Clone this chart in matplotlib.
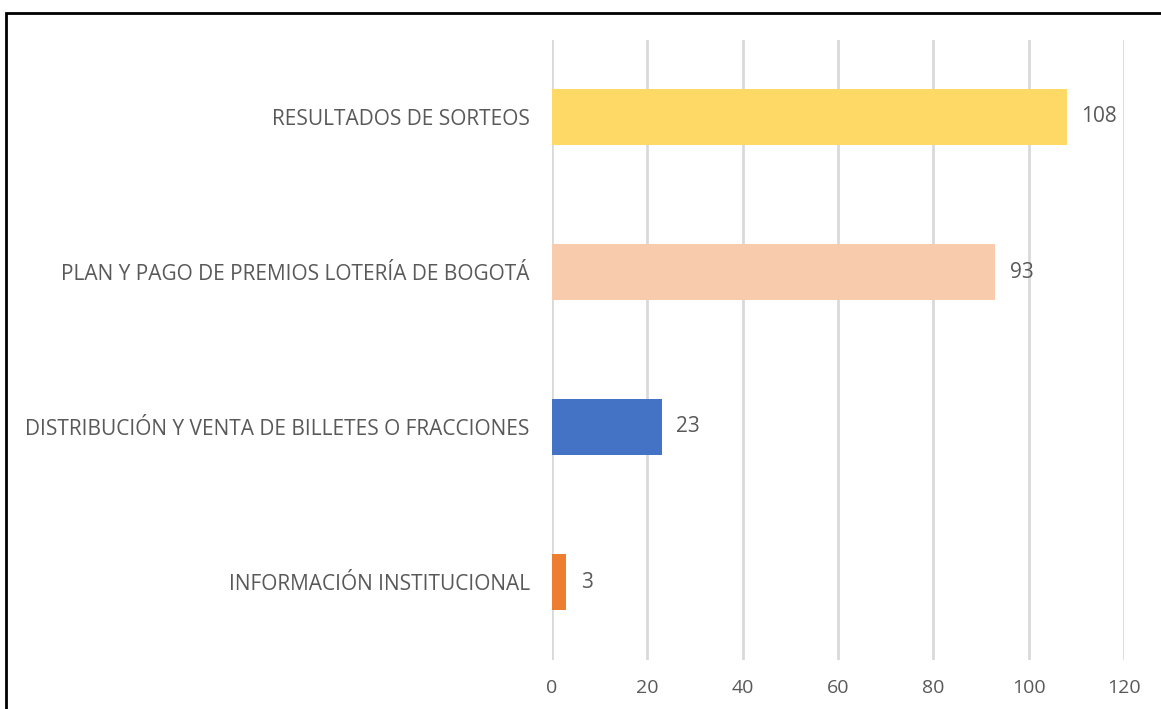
import matplotlib.pyplot as plt
from matplotlib.patches import Rectangle

categories = ["INFORMACIÓN INSTITUCIONAL",
              "DISTRIBUCIÓN Y VENTA DE BILLETES O FRACCIONES",
              "PLAN Y PAGO DE PREMIOS LOTERÍA DE BOGOTÁ",
              "RESULTADOS DE SORTEOS"]
values = [3, 23, 93, 108]
colors = ["#ED7D31", "#4472C4", "#F8CBAD", "#FFD966"]
xticks = [0, 20, 40, 60, 80, 100, 120]

text_color = "#595959"
plt.rcParams['font.family'] = ['Open Sans', 'DejaVu Sans']

fig = plt.figure(figsize=(11.61, 7.09), dpi=100)
ax = fig.add_axes([552/1161, 1 - 659.5/709, (1124 - 552)/1161, (659.5 - 39.5)/709])

ypos = list(range(len(categories)))
ax.barh(ypos, values, height=0.36, color=colors, zorder=3)
for y, v in zip(ypos, values):
    ax.text(v + 3, y, str(v), va='center', ha='left', fontsize=15, color=text_color)

ax.set_xlim(0, 120)
ax.set_ylim(-0.5, 3.5)
ax.set_xticks(xticks)
ax.set_yticks(ypos)
ax.set_yticklabels(categories, fontsize=15)
ax.tick_params(axis='both', length=0, colors=text_color)
ax.tick_params(axis='x', labelsize=14, pad=14)
ax.tick_params(axis='y', pad=16)
ax.grid(axis='x', color='#D9D9D9', linewidth=2, zorder=0)
for s in ax.spines.values():
    s.set_visible(False)

# outer frame (runs off the right and bottom edges)
fig.patches.append(Rectangle((6/1161, -0.1), 1.2, 1 - 13/709 + 0.1,
                             transform=fig.transFigure, fill=False,
                             edgecolor='black', linewidth=2))

fig.savefig("out.png", dpi=100)
